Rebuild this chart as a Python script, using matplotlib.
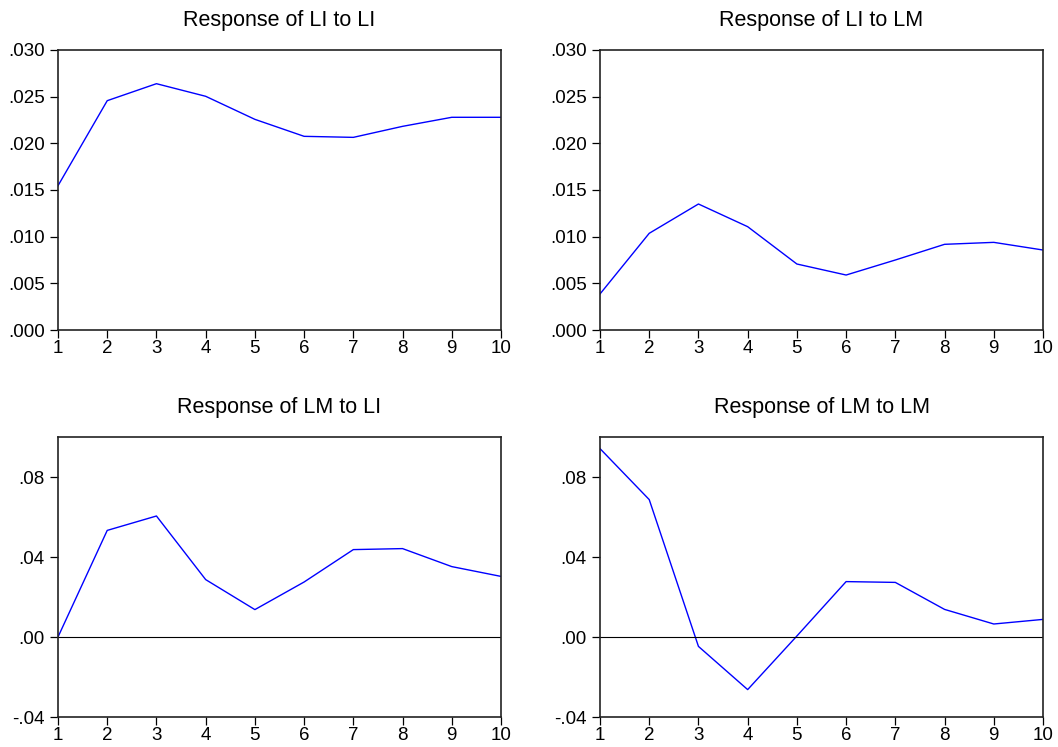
#!/usr/bin/env python3
"""Impulse responses (LI, LM) in a 2x2 EViews-style grid."""
import matplotlib
matplotlib.use("Agg")
import matplotlib.pyplot as plt

plt.rcParams["font.family"] = ["Liberation Sans", "DejaVu Sans"]

PERIODS = [1, 2, 3, 4, 5, 6, 7, 8, 9, 10]

LI_TO_LI = [0.01546, 0.02457, 0.02639, 0.02504, 0.02257,
            0.02075, 0.02064, 0.02182, 0.02279, 0.02279]
LI_TO_LM = [0.00386, 0.01036, 0.01350, 0.01107, 0.00707,
            0.00589, 0.00750, 0.00918, 0.00939, 0.00857]
LM_TO_LI = [0.0000, 0.0533, 0.0605, 0.0287, 0.0137,
            0.0275, 0.0437, 0.0442, 0.0352, 0.0303]
LM_TO_LM = [0.0942, 0.0687, -0.0047, -0.0263, 0.0005,
            0.0277, 0.0273, 0.0138, 0.0065, 0.0088]

TOP_TICKS = [0.0, 0.005, 0.010, 0.015, 0.020, 0.025, 0.030]
TOP_LABELS = [".000", ".005", ".010", ".015", ".020", ".025", ".030"]
BOT_TICKS = [-0.04, 0.0, 0.04, 0.08]
BOT_LABELS = ["-.04", ".00", ".04", ".08"]

PANELS = [
    ("Response of LI to LI", LI_TO_LI, (0.0, 0.030), TOP_TICKS, TOP_LABELS, False),
    ("Response of LI to LM", LI_TO_LM, (0.0, 0.030), TOP_TICKS, TOP_LABELS, False),
    ("Response of LM to LI", LM_TO_LI, (-0.04, 0.10), BOT_TICKS, BOT_LABELS, True),
    ("Response of LM to LM", LM_TO_LM, (-0.04, 0.10), BOT_TICKS, BOT_LABELS, True),
]

W, H = 1058, 747
# axes boxes in pixels: left, top, right, bottom
BOXES = [(58, 50, 501, 330), (600, 50, 1043, 330),
         (58, 437, 501, 717), (600, 437, 1043, 717)]


def main():
    fig = plt.figure(figsize=(W / 100, H / 100), dpi=100)

    for (title, vals, ylim, yt, ylab, zero), (l, t, r, b) in zip(PANELS, BOXES):
        ax = fig.add_axes([l / W, (H - b) / H, (r - l) / W, (b - t) / H])
        ax.plot(PERIODS, vals, color="#0000ff", lw=1.0)
        if zero:
            ax.axhline(0, color="black", lw=0.8)
        ax.set_xlim(1, 10)
        ax.set_ylim(*ylim)
        ax.set_xticks(PERIODS)
        ax.set_xticklabels([str(p) for p in PERIODS])
        ax.set_yticks(yt)
        ax.set_yticklabels(ylab)
        ax.tick_params(direction="out", length=6, width=0.9, labelsize=13.5,
                       top=False, right=False)
        ax.tick_params(axis="x", pad=1.5)
        ax.tick_params(axis="y", pad=3.5)
        for s in ax.spines.values():
            s.set_linewidth(1.2)
            s.set_color("#222222")
        ax.set_title(title, fontsize=15.5, pad=17)

    fig.savefig("out.png", dpi=100)


if __name__ == "__main__":
    main()
